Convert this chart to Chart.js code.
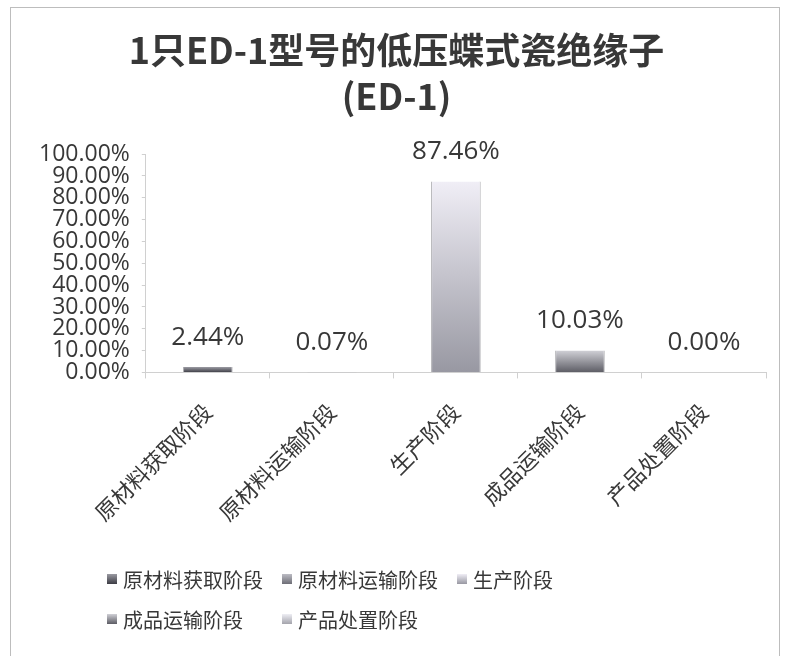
<!DOCTYPE html>
<html>
<head>
<meta charset="utf-8">
<script src="https://cdn.jsdelivr.net/npm/chart.js@4.4.0/dist/chart.umd.min.js"></script>
<style>
  html, body { margin: 0; padding: 0; background: #fff; }
</style>
</head>
<body>
<canvas id="edChart" width="785" height="656"></canvas>
<script>
const titleLines = ['1只ED-1型号的低压蝶式瓷绝缘子', '(ED-1)'];
const categories = ['原材料获取阶段', '原材料运输阶段', '生产阶段', '成品运输阶段', '产品处置阶段'];
const shareValues = [2.44, 0.07, 87.46, 10.03, 0.00];
const yTickLabels = ['0.00%', '10.00%', '20.00%', '30.00%', '40.00%', '50.00%',
  '60.00%', '70.00%', '80.00%', '90.00%', '100.00%'];

// gradient colours per stage (top -> bottom)
const barTops = ['#9a9aa2', '#bcbcc4', '#f0eef6', '#d0d0d6', '#eeeef4'];
const barBottoms = ['#3c3c44', '#6e6e76', '#9898a2', '#5c5c64', '#a4a4ac'];
const textColor = '#383838';
const lineColor = '#d0d0d0';

function barGradient(context) {
  const chart = context.chart;
  const { ctx, chartArea, scales } = chart;
  const i = context.dataIndex;
  if (!chartArea) return barBottoms[i];
  const top = scales.y.getPixelForValue(shareValues[i]);
  const bottom = scales.y.getPixelForValue(0);
  if (bottom - top < 1) return barBottoms[i];
  const g = ctx.createLinearGradient(0, top, 0, bottom);
  g.addColorStop(0, barTops[i]);
  g.addColorStop(1, barBottoms[i]);
  return g;
}

// white page + thin frame around the figure
const framePlugin = {
  id: 'frame',
  beforeDraw(chart) {
    const { ctx, width, height } = chart;
    ctx.save();
    ctx.fillStyle = '#ffffff';
    ctx.fillRect(0, 0, width, height);
    ctx.strokeStyle = '#bdbdbd';
    ctx.lineWidth = 1;
    ctx.strokeRect(10.5, 7.5, width - 16, height - 6);
    ctx.restore();
  }
};

// value above each bar
const valueLabels = {
  id: 'valueLabels',
  afterDatasetsDraw(chart) {
    const { ctx } = chart;
    const meta = chart.getDatasetMeta(0);
    ctx.save();
    ctx.font = '26px "Open Sans"';
    ctx.fillStyle = textColor;
    ctx.textAlign = 'center';
    ctx.textBaseline = 'middle';
    meta.data.forEach((bar, i) => {
      ctx.fillText(shareValues[i].toFixed(2) + '%', bar.x, bar.y - 30);
    });
    ctx.restore();
  }
};

// legend laid out as a 3-column grid, like the Excel one
const gridLegend = {
  id: 'gridLegend',
  afterDraw(chart) {
    const { ctx } = chart;
    ctx.save();
    ctx.font = '20px "Noto Sans CJK SC"';
    ctx.textBaseline = 'middle';
    ctx.textAlign = 'left';
    categories.forEach((name, i) => {
      const x = 107 + (i % 3) * 175;
      const y = 579 + Math.floor(i / 3) * 40;
      const g = ctx.createLinearGradient(0, y - 5, 0, y + 5);
      g.addColorStop(0, barTops[i]);
      g.addColorStop(1, barBottoms[i]);
      ctx.fillStyle = g;
      ctx.fillRect(x, y - 5, 10, 10);
      ctx.fillStyle = textColor;
      ctx.fillText(name, x + 16, y + 1);
    });
    ctx.restore();
  }
};

new Chart(document.getElementById('edChart'), {
  type: 'bar',
  data: {
    labels: categories,
    datasets: [{
      data: shareValues,
      backgroundColor: barGradient,
      borderColor: 'rgba(70,70,80,0.45)',
      borderWidth: { left: 1, right: 1, top: 0, bottom: 0 },
      barPercentage: 0.4,
      categoryPercentage: 1
    }]
  },
  options: {
    responsive: false,
    animation: false,
    layout: { padding: { left: 27, right: 19, top: 4, bottom: 110 } },
    plugins: {
      legend: { display: false },
      tooltip: { enabled: false },
      title: {
        display: true,
        text: titleLines,
        color: textColor,
        font: { family: '"Noto Sans CJK SC"', size: 36, weight: 'bold', lineHeight: 1.28 },
        padding: { top: 23, bottom: 35 }
      }
    },
    scales: {
      x: {
        grid: { offset: true, drawOnChartArea: false, tickLength: 6, color: lineColor },
        border: { color: lineColor },
        ticks: {
          color: textColor,
          font: { family: '"Noto Sans CJK SC"', size: 22 },
          minRotation: 45,
          maxRotation: 45,
          autoSkip: false,
          padding: 20
        }
      },
      y: {
        min: 0,
        max: 100,
        grid: { drawOnChartArea: false, tickLength: 4, color: lineColor },
        border: { color: lineColor },
        ticks: {
          stepSize: 10,
          autoSkip: false,
          padding: 12,
          color: textColor,
          font: { family: '"Open Sans"', size: 23, lineHeight: 1 },
          callback: (value, index) => yTickLabels[index]
        }
      }
    }
  },
  plugins: [framePlugin, valueLabels, gridLegend]
});
</script>
</body>
</html>
